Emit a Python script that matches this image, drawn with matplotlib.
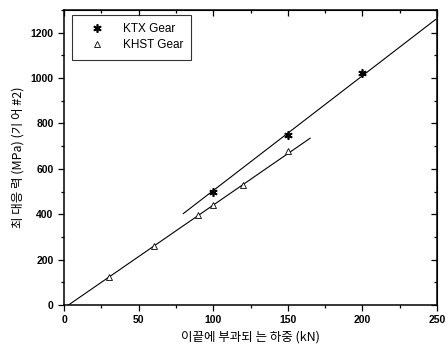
import numpy as np
import matplotlib
matplotlib.use('Agg')
import matplotlib.pyplot as plt
from matplotlib.ticker import MultipleLocator

# data
ktx_load = [100, 150, 200]
ktx_stress = [500, 748, 1022]
khst_load = [30, 60, 90, 100, 120, 150]
khst_stress = [122, 262, 398, 440, 530, 680]

# fitted lines (end points)
ktx_fit_x = [80, 249]
ktx_fit_y = [403, 1258]
khst_fit_x = [3, 165]
khst_fit_y = [0, 735]

plt.rcParams['font.family'] = ['Noto Sans CJK KR', 'DejaVu Sans']

fig = plt.figure(figsize=(4.48, 3.53), dpi=100)
ax = fig.add_axes([64/448, 48/353, 373/448, 295/353])

ax.plot(ktx_fit_x, ktx_fit_y, color='black', lw=0.8)
ax.plot(khst_fit_x, khst_fit_y, color='black', lw=0.8)
ax.plot(ktx_load, ktx_stress, ls='none', marker=(6, 2, 0), ms=6, mew=1.2,
        color='black', label='KTX Gear')
ax.plot(khst_load, khst_stress, ls='none', marker='^', ms=4.5, mew=0.6,
        mfc='white', mec='black', label='KHST Gear')

ax.set_xlim(0, 250)
ax.set_ylim(0, 1300)
ax.xaxis.set_major_locator(MultipleLocator(50))
ax.xaxis.set_minor_locator(MultipleLocator(25))
ax.yaxis.set_major_locator(MultipleLocator(200))
ax.yaxis.set_minor_locator(MultipleLocator(100))
ax.tick_params(which='both', direction='out', labelsize=7.5, width=0.9)
ax.tick_params(which='major', length=4)
ax.tick_params(which='minor', length=2.5)
for lab in ax.get_xticklabels() + ax.get_yticklabels():
    lab.set_fontfamily(['Liberation Sans'])
    lab.set_fontweight('bold')
for sp in ax.spines.values():
    sp.set_linewidth(1.1)

# inward ticks on the top and right edges
sec_x = ax.secondary_xaxis('top')
sec_x.xaxis.set_major_locator(MultipleLocator(50))
sec_x.xaxis.set_minor_locator(MultipleLocator(25))
sec_x.tick_params(which='both', direction='in', labeltop=False, width=0.9)
sec_x.tick_params(which='major', length=4)
sec_x.tick_params(which='minor', length=2.5)
sec_y = ax.secondary_yaxis('right')
sec_y.yaxis.set_major_locator(MultipleLocator(200))
sec_y.yaxis.set_minor_locator(MultipleLocator(100))
sec_y.tick_params(which='both', direction='in', labelright=False, width=0.9)
sec_y.tick_params(which='major', length=4)
sec_y.tick_params(which='minor', length=2.5)

ax.set_xlabel('이끝에 부과되 는 하중 (kN)', fontsize=9)
ax.set_ylabel('최 대응 력 (MPa) (기 어 #2)', fontsize=9)

leg = ax.legend(loc='upper left', fontsize=8.5, frameon=True, fancybox=False,
                edgecolor='black', borderpad=0.7, handlelength=2.8,
                labelspacing=0.35, borderaxespad=0,
                bbox_to_anchor=(8/373, 1 - 5/295))
leg.get_frame().set_linewidth(0.8)
for t in leg.get_texts():
    t.set_fontfamily(['Liberation Sans'])

fig.savefig('out.png', dpi=100)
